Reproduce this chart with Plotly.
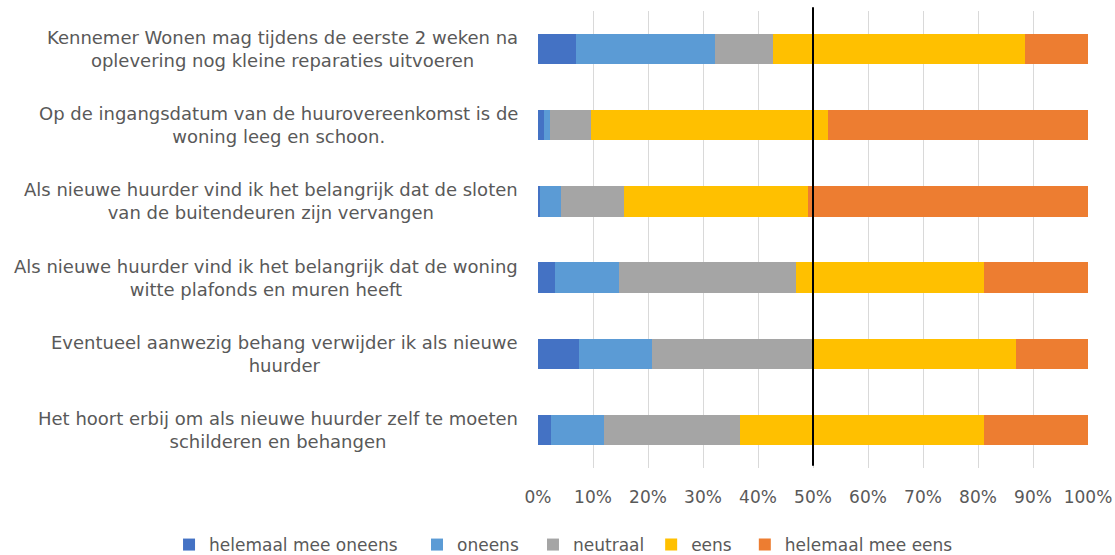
import plotly.graph_objects as go

categories = [
    "Kennemer Wonen mag tijdens de eerste 2 weken na<br>oplevering nog kleine reparaties uitvoeren",
    "Op de ingangsdatum van de huurovereenkomst is de<br>woning leeg en schoon.",
    "Als nieuwe huurder vind ik het belangrijk dat de sloten<br>van de buitendeuren zijn vervangen",
    "Als nieuwe huurder vind ik het belangrijk dat de woning<br>witte plafonds en muren heeft",
    "Eventueel aanwezig behang verwijder ik als nieuwe<br>huurder",
    "Het hoort erbij om als nieuwe huurder zelf te moeten<br>schilderen en behangen",
]
series_names = ["helemaal mee oneens", "oneens", "neutraal", "eens", "helemaal mee eens"]
helemaal_mee_oneens = [6.9, 1.1, 0.3, 3.1, 7.4, 2.4]
oneens = [25.3, 1.0, 3.9, 11.7, 13.3, 9.6]
neutraal = [10.6, 7.5, 11.5, 32.1, 29.3, 24.8]
eens = [45.8, 43.1, 33.3, 34.2, 36.9, 44.3]
helemaal_mee_eens = [11.4, 47.3, 51.0, 18.9, 13.1, 18.9]
x_ticks = [0, 10, 20, 30, 40, 50, 60, 70, 80, 90, 100]
x_tick_labels = [f"{t}%" for t in x_ticks]

colors = ["#4472C4", "#5B9BD5", "#A5A5A5", "#FFC000", "#ED7D31"]
series = [helemaal_mee_oneens, oneens, neutraal, eens, helemaal_mee_eens]
# horizontal placement (container fraction) of each legend entry
legend_x = [0.1516, 0.374, 0.478, 0.584, 0.668]

keys = [f"c{i}" for i in range(len(categories))]

font_family = "DejaVu Sans, sans-serif"
text_color = "#595959"

fig = go.Figure()
legend_layouts = {}
for i, (name, vals, col) in enumerate(zip(series_names, series, colors)):
    lg = "legend" if i == 0 else f"legend{i + 1}"
    fig.add_trace(go.Bar(
        y=keys, x=vals, name=name, orientation="h",
        marker=dict(color=col, line=dict(width=0)),
        hoverinfo="x+name", legend=lg,
    ))
    legend_layouts[lg] = dict(
        orientation="h", xref="container", x=legend_x[i], xanchor="left",
        yref="container", y=0.018, yanchor="middle",
        font=dict(size=17, color=text_color, family=font_family),
        bgcolor="rgba(0,0,0,0)",
    )

for k, lab in zip(keys, categories):
    fig.add_annotation(
        x=-0.033, xref="paper", y=k, yref="y",
        text=lab, showarrow=False, xanchor="right", yanchor="middle",
        align="center", font=dict(family=font_family, size=18, color=text_color),
    )

fig.add_shape(type="line", xref="x", yref="paper", x0=50, x1=50, y0=0.005, y1=1.008,
              line=dict(color="black", width=2))

fig.update_layout(
    barmode="stack",
    bargap=0.6,
    width=1115, height=555,
    margin=dict(l=538, r=27, t=11, b=87, autoexpand=False),
    plot_bgcolor="white", paper_bgcolor="white",
    font=dict(family=font_family, size=17, color=text_color),
    xaxis=dict(
        range=[0, 100], tickvals=x_ticks, ticktext=x_tick_labels,
        showgrid=True, gridcolor="#D9D9D9", gridwidth=1,
        zeroline=False, showline=False, ticks="", ticklen=0,
        ticklabelstandoff=17,
        tickfont=dict(size=17, color=text_color),
    ),
    yaxis=dict(
        categoryorder="array", categoryarray=keys, autorange="reversed",
        showticklabels=False, showgrid=False, zeroline=False, showline=False,
    ),
    showlegend=True,
    **legend_layouts,
)

fig.write_html("out.html")
